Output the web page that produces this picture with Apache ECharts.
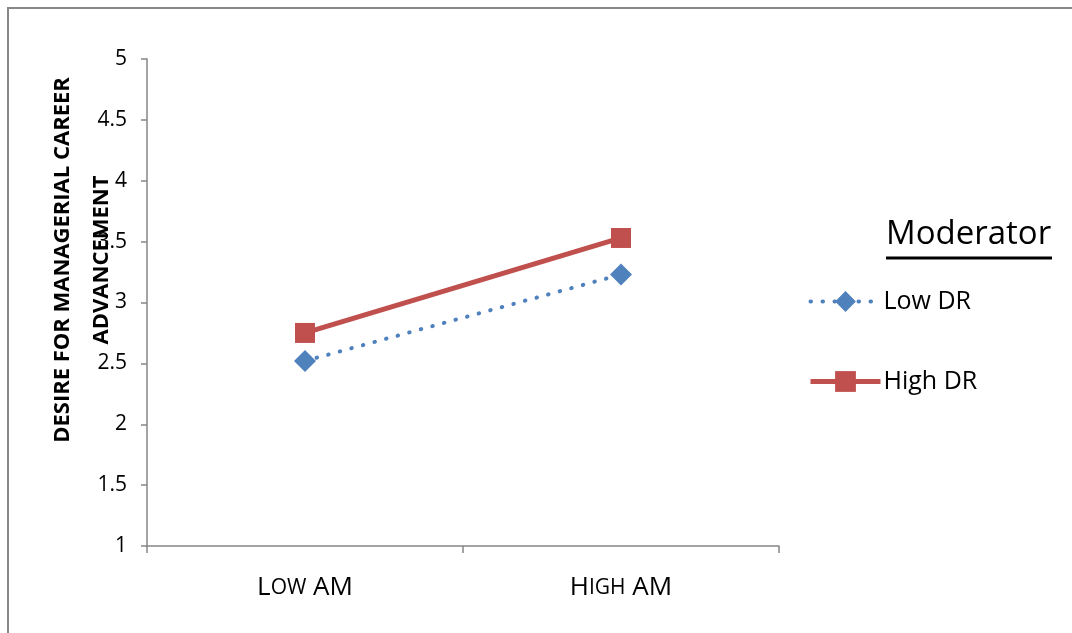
<!DOCTYPE html>
<html>
<head>
<meta charset="utf-8">
<script src="https://cdn.jsdelivr.net/npm/echarts@6/dist/echarts.min.js"></script>
<style>
  html, body { margin: 0; padding: 0; background: #fff; }
  #chart { width: 1072px; height: 633px; }
</style>
</head>
<body>
<div id="chart"></div>
<script>
var categories = ["LOW AM", "HIGH AM"];
var lowDR = [2.52, 3.23];
var highDR = [2.75, 3.53];
var yTicks = [1, 1.5, 2, 2.5, 3, 3.5, 4, 4.5, 5];

var font = "Open Sans";
var blue = "#4F81BD";
var red = "#C0504D";
var chart = echarts.init(document.getElementById("chart"));

chart.setOption({
  animation: false,
  backgroundColor: "#fff",
  grid: { left: 147, right: 293, top: 59, bottom: 87 },
  graphic: [
    {
      type: "polyline",
      shape: { points: [[8, 640], [8, 8], [1080, 8]] },
      style: { stroke: "#888", lineWidth: 2, fill: null }
    },
    {
      type: "text",
      x: 886, y: 218,
      style: { text: "Moderator", font: "33px '" + font + "'", fill: "#000" }
    },
    {
      type: "line",
      shape: { x1: 886, y1: 258, x2: 1052, y2: 258 },
      style: { stroke: "#000", lineWidth: 3 }
    },
    {
      type: "text",
      x: 82, y: 260,
      rotation: Math.PI / 2,
      style: {
        text: "DESIRE FOR MANAGERIAL CAREER\nADVANCEMENT",
        font: "bold 22px '" + font + "'",
        fill: "#000",
        align: "center",
        verticalAlign: "middle",
        lineHeight: 39
      },
      z: 10
    }
  ],
  legend: {
    orient: "vertical",
    left: 803,
    top: 284,
    itemWidth: 70,
    itemHeight: 26,
    itemGap: 55,
    textStyle: { fontFamily: font, fontSize: 25, color: "#000", padding: [0, 0, 0, -2] },
    data: [
      { name: "Low DR", lineStyle: { width: 4 } },
      { name: "High DR", lineStyle: { width: 5 } }
    ]
  },
  xAxis: {
    type: "category",
    data: categories,
    boundaryGap: true,
    axisLine: { lineStyle: { color: "#868686", width: 1.5 } },
    axisTick: { show: true, length: 7, lineStyle: { color: "#868686", width: 1.5 } },
    axisLabel: {
      margin: 29,
      formatter: function (v) {
        var parts = v.split(" ");
        return "{big|" + parts[0].charAt(0) + "}{small|" + parts[0].slice(1) + "}{big| " + parts[1] + "}";
      },
      rich: {
        big: { fontFamily: font, fontSize: 26, color: "#000" },
        small: { fontFamily: font, fontSize: 21, color: "#000" }
      }
    }
  },
  yAxis: {
    type: "value",
    min: yTicks[0],
    max: yTicks[yTicks.length - 1],
    interval: 0.5,
    axisLine: { show: true, lineStyle: { color: "#868686", width: 1.5 } },
    axisTick: { show: true, length: 6, lineStyle: { color: "#868686", width: 1.5 } },
    splitLine: { show: false },
    axisLabel: { fontFamily: font, fontSize: 21, color: "#000", margin: 20 }
  },
  series: [
    {
      name: "Low DR",
      type: "line",
      data: lowDR,
      symbol: "diamond",
      symbolSize: 22,
      itemStyle: { color: blue },
      lineStyle: { color: blue, width: 4, type: [0.5, 11.5], cap: "round" },
      z: 2
    },
    {
      name: "High DR",
      type: "line",
      data: highDR,
      symbol: "rect",
      symbolSize: 20,
      itemStyle: { color: red },
      lineStyle: { color: red, width: 5 },
      z: 3
    }
  ]
});
</script>
</body>
</html>
